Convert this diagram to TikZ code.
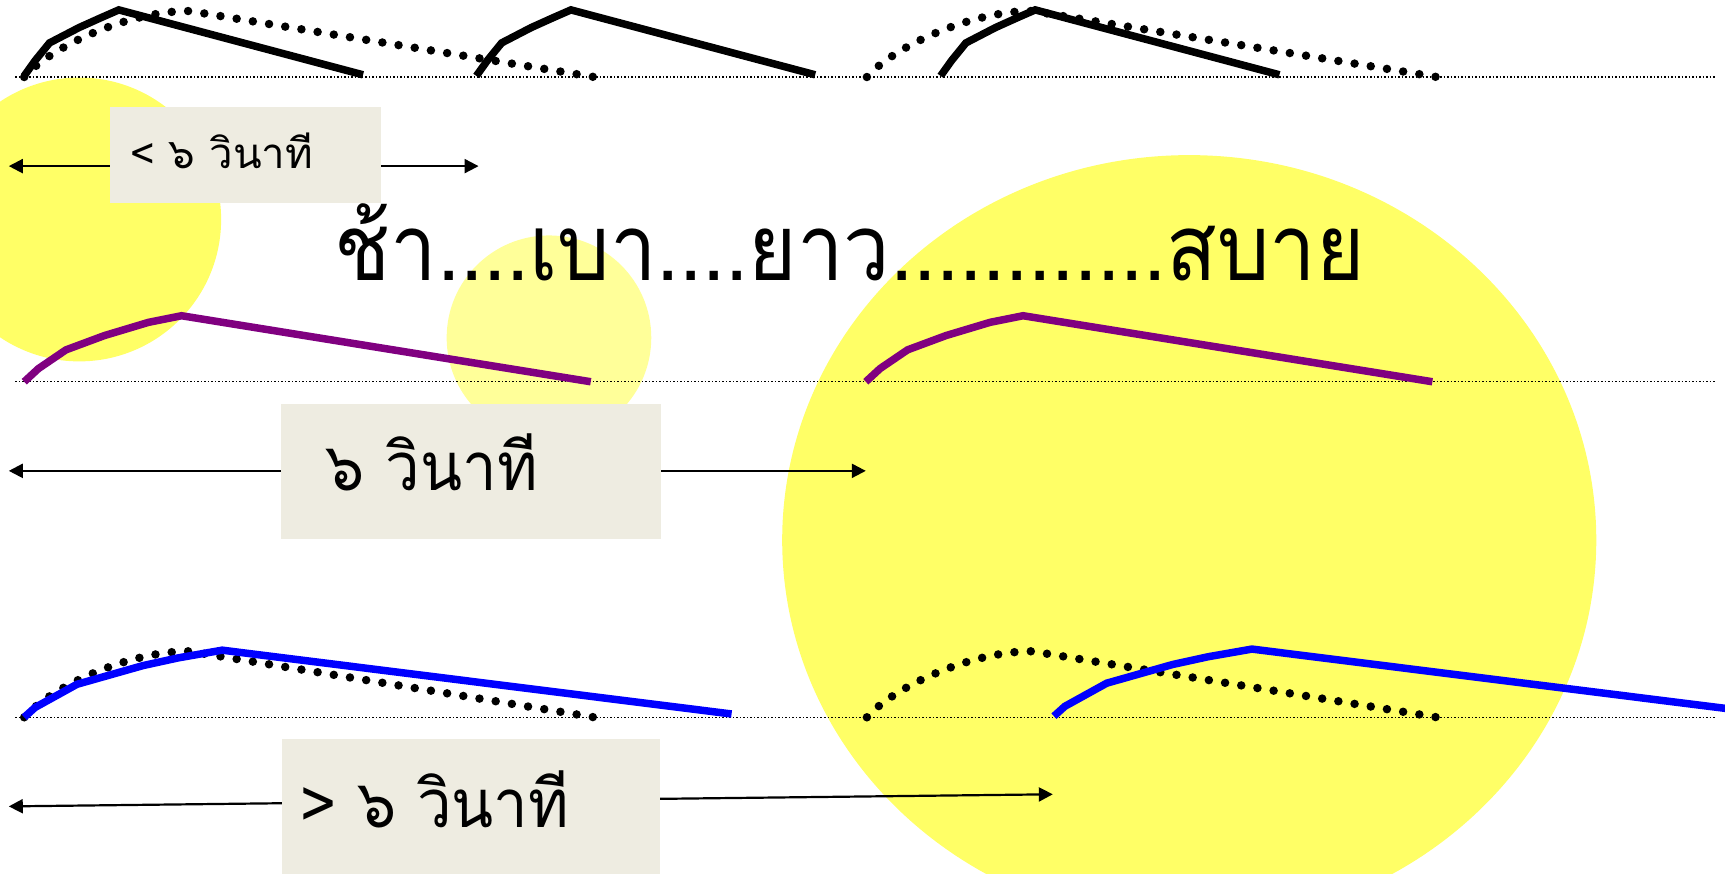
\documentclass[tikz,border=0pt]{standalone}
\usepackage{fontspec}
\setmainfont[Script=Thai]{Loma}
\usepackage{tikz}
\usetikzlibrary{arrows.meta}
\definecolor{sunny}{HTML}{FFFF66}
\definecolor{pale}{HTML}{FFFF99}
\definecolor{tagbg}{HTML}{EEECE1}
\definecolor{plum}{HTML}{800080}
\definecolor{rblue}{HTML}{0000FF}
% breath shapes, drawn from their start on the ground line
\newcommand{\fastpath}{(0,0) -- (10,-14) -- (23,-30) -- (50,-44) -- (70,-53) -- (86,-60) -- (308,-1)}
\newcommand{\evenpath}{(0,0) -- (13,-12) -- (38,-29) -- (73,-42) -- (113,-54) -- (143,-60) -- (515,0)}
\newcommand{\longpath}{(0,0) -- (10,-9) -- (48,-30) -- (108,-47) -- (140,-54) -- (180,-61) -- (643,-3)}
\newcommand{\refpath}{(0,0) .. controls (25,-28) and (95,-60) .. (150,-60) -- (518,0)}
\tikzset{
  >={Triangle[length=14pt,width=14pt]},
  ground/.style={line width=1.5pt,dash pattern=on 1.5pt off 2pt},
  hump/.style={line width=7.5pt},
  refdots/.style={line width=8.5pt,line cap=round,dash pattern=on 0pt off 16.4pt},
  span/.style={<->,line width=2.2pt},
  tag/.style={fill=tagbg,anchor=north west,inner sep=0pt},
  lab/.style={anchor=base west,inner sep=0pt},
}
\begin{document}
\begin{tikzpicture}[x=1.1pt,y=-1.1pt]
  \useasboundingbox (0,0) rectangle (1568,793.6);
  \clip (0,0) rectangle (1568,793.6);
  % yellow spots
  \fill[sunny] (72,199.5) circle[radius=129];
  \fill[pale] (499,307) circle[radius=93];
  \fill[sunny] (1081,491) ellipse[x radius=370,y radius=350];
  % ground lines
  \draw[ground] (14,70) -- (1559,70);
  \draw[ground] (14,347) -- (1559,347);
  \draw[ground] (14,652) -- (1559,652);
  % row 1: too fast
  \draw[refdots,shift={(22,70)}] \refpath;
  \draw[refdots,shift={(788,70)}] \refpath;
  \draw[hump,shift={(22,69)}] \fastpath;
  \draw[hump,shift={(433,69)}] \fastpath;
  \draw[hump,shift={(855,69)}] \fastpath;
  % row 2: six seconds
  \draw[hump,plum,shift={(22,347)}] \evenpath;
  \draw[hump,plum,shift={(787,347)}] \evenpath;
  % row 3: too long
  \draw[refdots,shift={(22,652)}] \refpath;
  \draw[refdots,shift={(788,652)}] \refpath;
  \draw[hump,rblue,shift={(22,652)}] \longpath;
  \draw[hump,rblue,shift={(958,651)}] \longpath;
  % time spans
  \coordinate (l1) at (8,151);
  \coordinate (r1) at (435,151);
  \coordinate (l2) at (8,428);
  \coordinate (r2) at (787,428);
  \coordinate (l3) at (8,733);
  \coordinate (r3) at (957,722);
  \draw[span] (l1) -- (r1);
  \draw[span] (l2) -- (r2);
  \draw[span] (l3) -- (r3);
  \node[tag,minimum width=271pt,minimum height=96pt] (box1) at (100,97) {};
  \node[tag,minimum width=380pt,minimum height=135pt] (box2) at (255,367) {};
  \node[tag,minimum width=378pt,minimum height=150pt] (box3) at (256,672) {};
  \node[lab,font=\fontsize{42}{46}\selectfont] (txt1) at (118,153) {< ๖ วินาที};
  \node[lab,font=\fontsize{67}{72}\selectfont] (txt2) at (296,445.5) {\scalebox{0.92}[1]{๖ วินาที}};
  \node[lab,font=\fontsize{67}{72}\selectfont] (txt3) at (273,752) {\scalebox{0.92}[1]{> ๖ วินาที}};
  \node[anchor=base,inner sep=0pt,font=\fontsize{92}{96}\selectfont] (title) at (772,255) {\scalebox{0.9}[1]{ช้า....เบา....ยาว............สบาย}};
\end{tikzpicture}
\end{document}
